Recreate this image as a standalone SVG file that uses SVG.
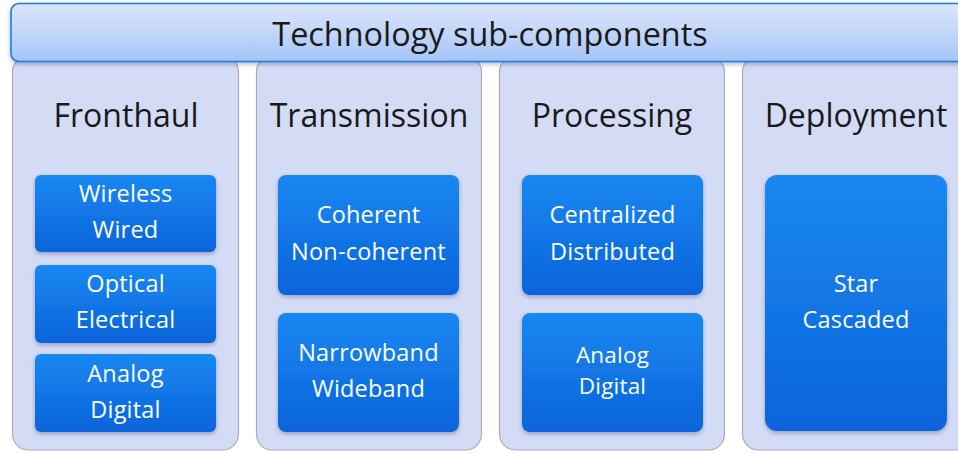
<svg xmlns="http://www.w3.org/2000/svg" width="958" height="453" viewBox="0 0 958 453">
<defs>
<linearGradient id="gTitle" x1="0" y1="0" x2="0" y2="1">
<stop offset="0" stop-color="#dae5fb"/><stop offset="0.5" stop-color="#c3d6fa"/><stop offset="1" stop-color="#a4c5f7"/>
</linearGradient>
<linearGradient id="gBox" x1="0" y1="0" x2="0" y2="1">
<stop offset="0" stop-color="#1a88f2"/><stop offset="1" stop-color="#0a64da"/>
</linearGradient>
<filter id="sh" x="-10%" y="-10%" width="120%" height="125%">
<feDropShadow dx="0" dy="2" stdDeviation="2" flood-color="#203060" flood-opacity="0.35"/>
</filter>
</defs>
<style>
.col{fill:#d4dcf5;stroke:#a9abb8;stroke-width:1.2}
.box{fill:url(#gBox);filter:url(#sh)}
.hdr{font-family:"Open Sans","DejaVu Sans",sans-serif;font-size:32px;fill:#1a1a1a;text-anchor:middle}
.t{font-family:"Open Sans","DejaVu Sans",sans-serif;font-size:23.5px;fill:#ffffff;text-anchor:middle;letter-spacing:0.2px}
.ts{font-size:22.5px}
.title{font-family:"Open Sans","DejaVu Sans",sans-serif;font-size:32.4px;fill:#1a1a1a;text-anchor:middle}
</style>
<rect width="958" height="453" fill="#ffffff"/>
<g id="col-fronthaul">
<rect class="col" x="12.5" y="56" width="226" height="394" rx="16"/>
<text class="hdr" x="126" y="127">Fronthaul</text>
<rect class="box" x="35" y="175" width="181" height="77" rx="6"/>
<text class="t" x="125.5" y="202">Wireless</text><text class="t" x="125.5" y="238">Wired</text>
<rect class="box" x="35" y="265" width="181" height="78" rx="6"/>
<text class="t" x="125.5" y="292">Optical</text><text class="t" x="125.5" y="328">Electrical</text>
<rect class="box" x="35" y="354" width="181" height="78" rx="6"/>
<text class="t" x="125.5" y="382">Analog</text><text class="t" x="125.5" y="418">Digital</text>
</g>
<g id="col-transmission">
<rect class="col" x="256.5" y="56" width="225" height="394" rx="16"/>
<text class="hdr" x="369" y="127">Transmission</text>
<rect class="box" x="278" y="175" width="181" height="120" rx="8"/>
<text class="t" x="368.5" y="223">Coherent</text><text class="t" x="368.5" y="260">Non-coherent</text>
<rect class="box" x="278" y="313" width="181" height="119" rx="8"/>
<text class="t" x="368.5" y="361">Narrowband</text><text class="t" x="368.5" y="397">Wideband</text>
</g>
<g id="col-processing">
<rect class="col" x="499.5" y="56" width="225" height="394" rx="16"/>
<text class="hdr" x="612" y="127">Processing</text>
<rect class="box" x="522" y="175" width="181" height="120" rx="8"/>
<text class="t" x="612.5" y="223">Centralized</text><text class="t" x="612.5" y="260">Distributed</text>
<rect class="box" x="522" y="313" width="181" height="119" rx="8"/>
<text class="t ts" x="612.5" y="363">Analog</text><text class="t ts" x="612.5" y="394">Digital</text>
</g>
<g id="col-deployment">
<rect class="col" x="742.5" y="56" width="240" height="394" rx="16"/>
<text class="hdr" x="856" y="127">Deployment</text>
<rect class="box" x="765" y="175" width="182" height="256" rx="12"/>
<text class="t" x="856" y="292">Star</text><text class="t" x="856" y="328">Cascaded</text>
</g>
<g id="title">
<rect x="11" y="3.5" width="980" height="58" rx="8" fill="url(#gTitle)" stroke="#1f7ce8" stroke-width="1.6" filter="url(#sh)"/>
<text class="title" x="490" y="46">Technology sub-components</text>
</g>
<g id="connectors"/>
</svg>
